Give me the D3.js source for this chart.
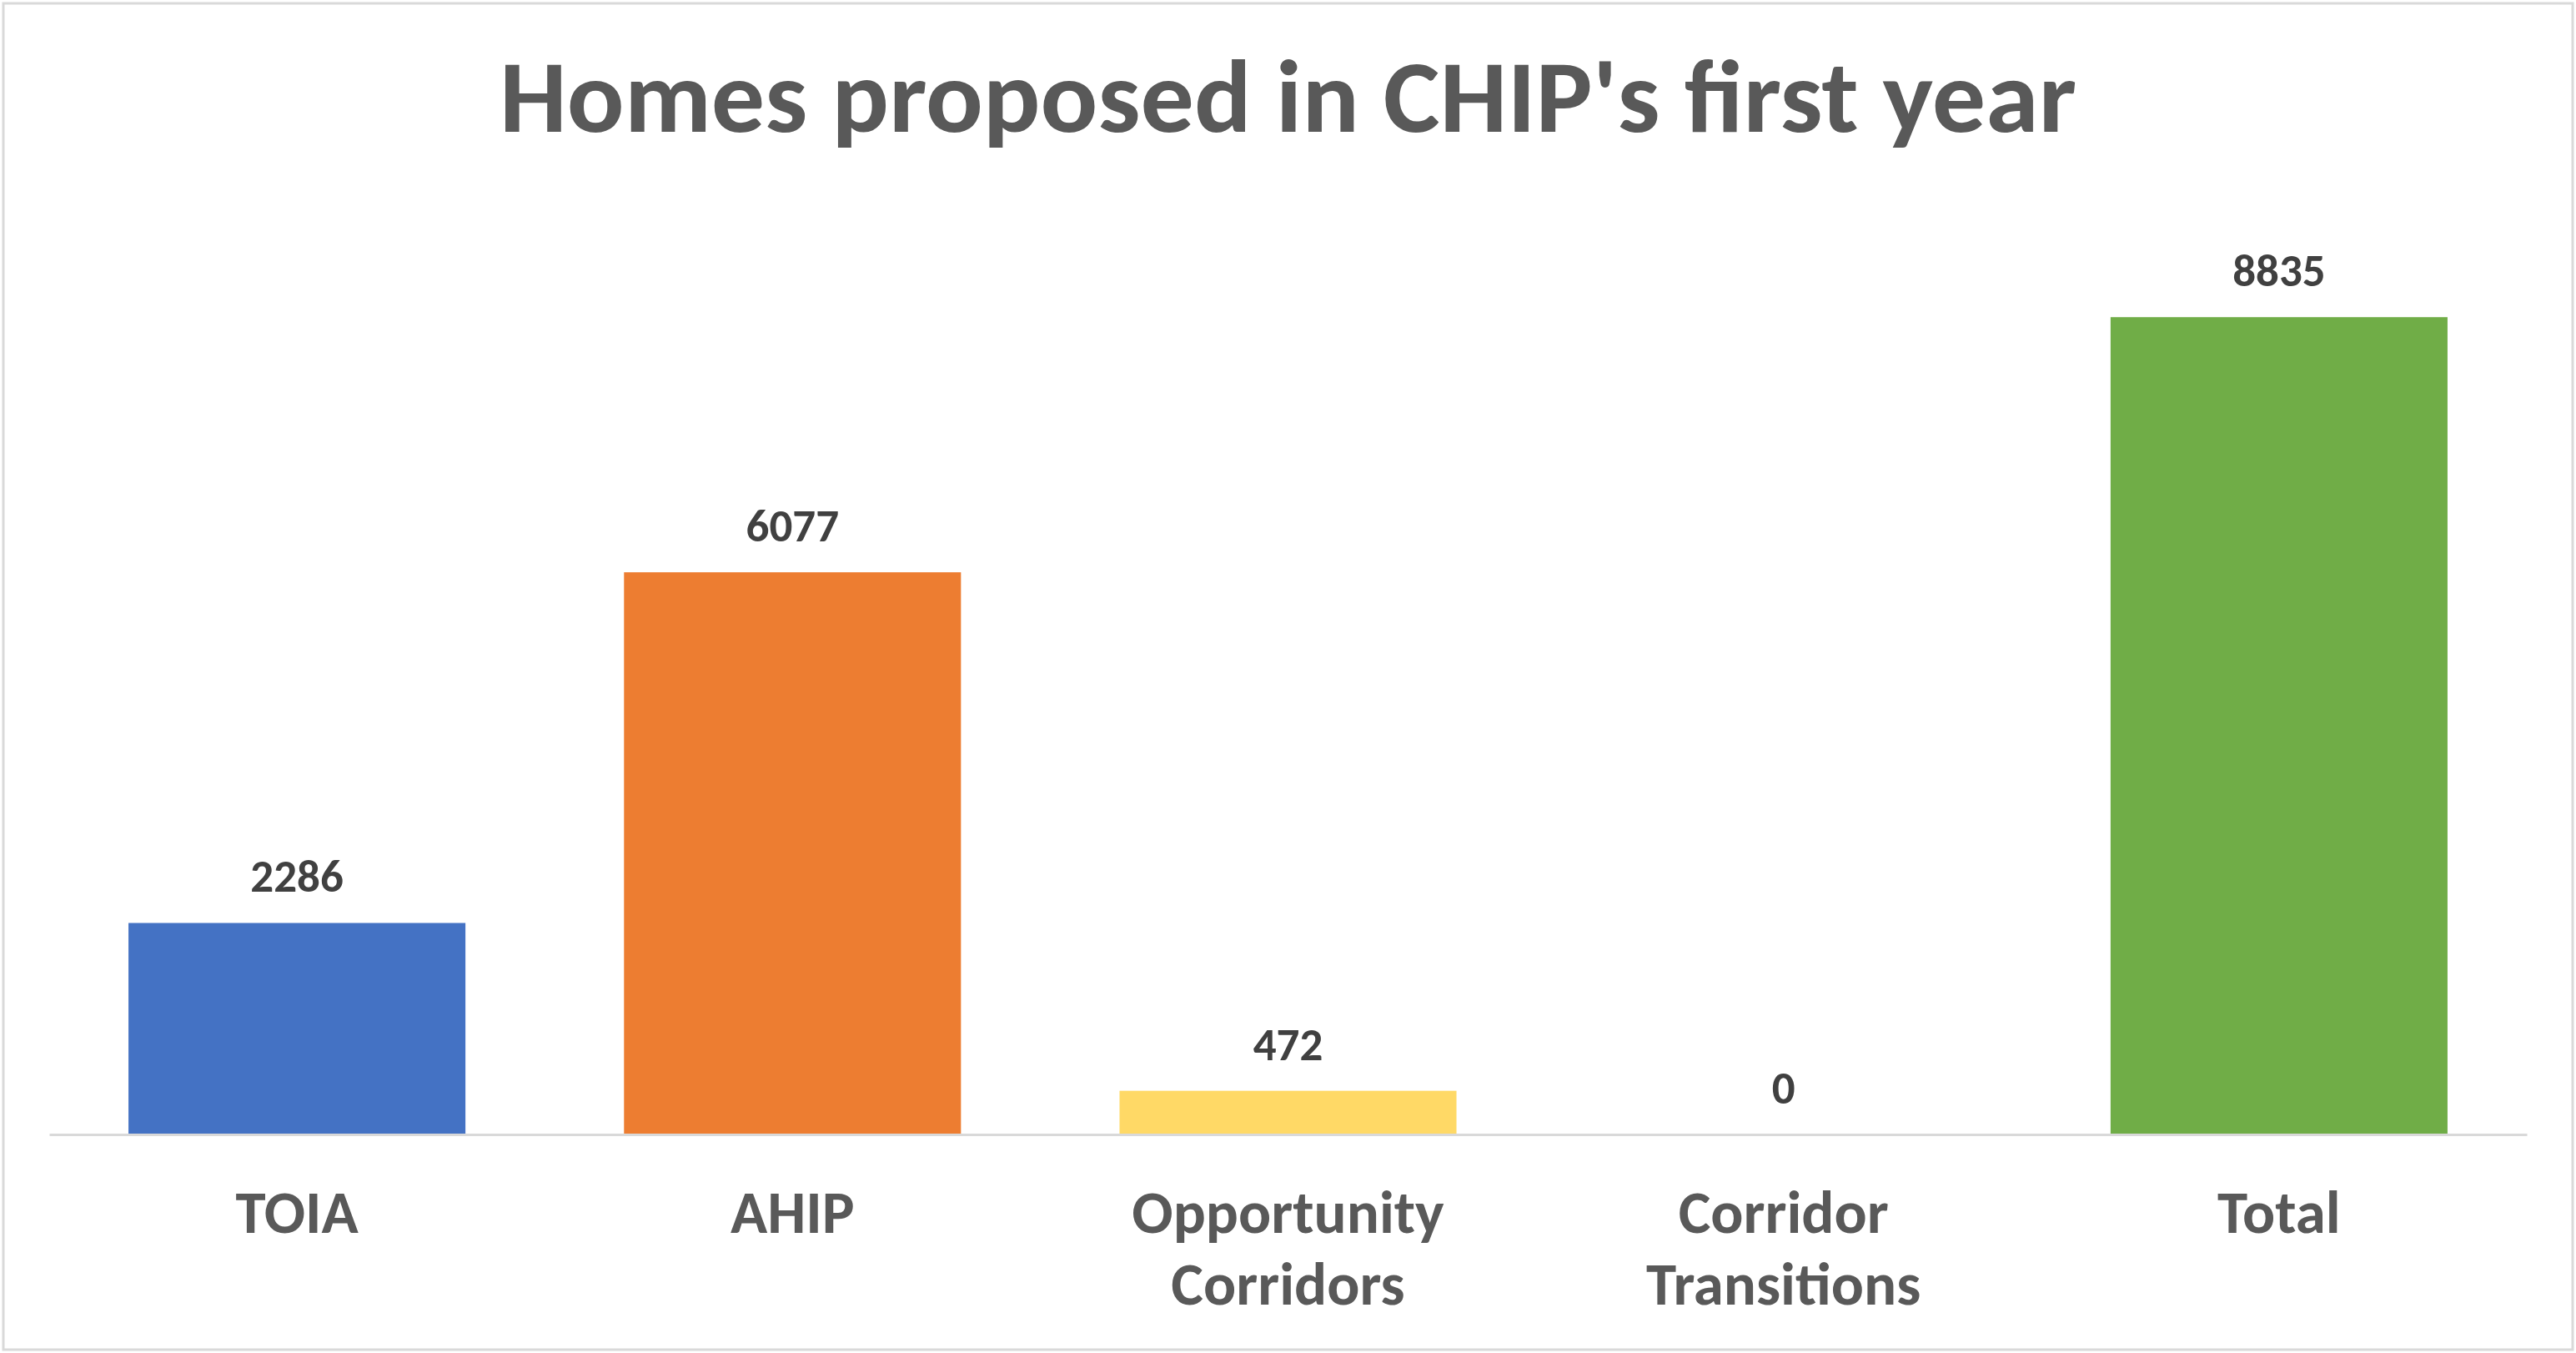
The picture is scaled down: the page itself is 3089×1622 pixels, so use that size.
<!DOCTYPE html>
<html>
<head>
<meta charset="utf-8">
<script src="https://cdn.jsdelivr.net/npm/d3@7"></script>
<style>
  body { margin: 0; background: #fff; }
  svg text { font-family: Carlito, Lato, "Open Sans", sans-serif; font-weight: bold; }
</style>
</head>
<body>
<svg id="chart"></svg>
<script>
// Chart data
const categories = ["TOIA", "AHIP", "Opportunity Corridors", "Corridor Transitions", "Total"];
const labelLines = [["TOIA"], ["AHIP"], ["Opportunity", "Corridors"], ["Corridor", "Transitions"], ["Total"]];
const values = [2286, 6077, 472, 0, 8835];
const colors = ["#4472c4", "#ed7d31", "#ffd966", "#a5a5a5", "#70ad47"];
const titleText = "Homes proposed in CHIP's first year";

const width = 3089;
const height = 1622;

const svg = d3.select("#chart").attr("width", width).attr("height", height);

// Outer frame like the spreadsheet chart area
svg.append("rect")
  .attr("x", 4).attr("y", 4)
  .attr("width", width - 8).attr("height", height - 8)
  .attr("fill", "#fff")
  .attr("stroke", "#d9d9d9")
  .attr("stroke-width", 3);

const x = d3.scaleBand().domain(categories).range([59, 3030]).paddingInner(0.32).paddingOuter(0.16);
const y = d3.scaleLinear().domain([0, 10000]).range([1360, 251]);

// Title, fitted to the width of the original
svg.append("text")
  .attr("x", width / 2)
  .attr("y", 158)
  .attr("text-anchor", "middle")
  .attr("fill", "#595959")
  .style("font-size", "124px")
  .attr("textLength", 1891)
  .attr("lengthAdjust", "spacingAndGlyphs")
  .text(titleText);

// Bars
svg.selectAll(".bar")
  .data(values)
  .enter()
  .append("rect")
  .attr("class", "bar")
  .attr("x", (d, i) => x(categories[i]))
  .attr("y", (d) => y(d))
  .attr("width", x.bandwidth())
  .attr("height", (d) => y(0) - y(d))
  .attr("fill", (d, i) => colors[i]);

// Category axis (line only, no ticks)
const xAxis = svg.append("g")
  .attr("transform", `translate(0, ${y(0)})`)
  .call(d3.axisBottom(x).tickSize(0).tickFormat(""));
xAxis.select(".domain").attr("stroke", "#d9d9d9").attr("stroke-width", 3);

// Category labels, wrapped like the original
const catLabels = svg.selectAll(".cat")
  .data(categories)
  .enter()
  .append("text")
  .attr("class", "cat")
  .attr("text-anchor", "middle")
  .attr("fill", "#595959")
  .style("font-size", "73px")
  .attr("x", (d) => x(d) + x.bandwidth() / 2)
  .attr("y", 1478);

catLabels.selectAll("tspan")
  .data((d, i) => labelLines[i])
  .enter()
  .append("tspan")
  .attr("x", function () { return d3.select(this.parentNode).attr("x"); })
  .attr("dy", (d, i) => (i === 0 ? 0 : 86))
  .text((d) => d);

// Value labels above bars
svg.selectAll(".val")
  .data(values)
  .enter()
  .append("text")
  .attr("class", "val")
  .attr("text-anchor", "middle")
  .attr("fill", "#404040")
  .style("font-size", "55px")
  .attr("x", (d, i) => x(categories[i]) + x.bandwidth() / 2)
  .attr("y", (d) => y(d) - 37)
  .text((d) => d);
</script>
</body>
</html>
